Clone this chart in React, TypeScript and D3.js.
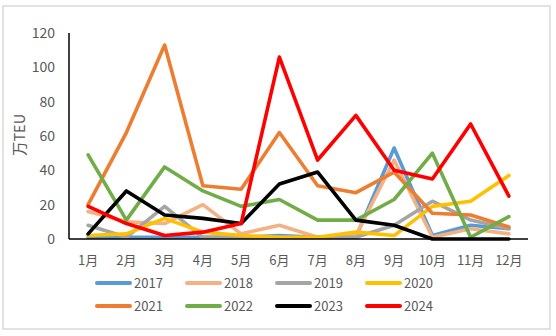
import React from "react";
import * as d3 from "d3";

const months = ["1月", "2月", "3月", "4月", "5月", "6月", "7月", "8月", "9月", "10月", "11月", "12月"];
const yTicks = [0, 20, 40, 60, 80, 100, 120];

const s2017 = [1, 1, 1, 1, 1, 2, 1, 1, 53, 2, 8, 6];
const s2018 = [16, 10, 9, 20, 3, 8, 1, 2, 46, 1, 6, 3];
const s2019 = [8, 1, 19, 1, 1, 1, 1, 1, 8, 22, 11, 6];
const s2020 = [2, 3, 12, 4, 2, 1, 1, 4, 2, 19, 22, 37];
const s2021 = [20, 62, 113, 31, 29, 62, 31, 27, 39, 15, 14, 7];
const s2022 = [49, 11, 42, 28, 19, 23, 11, 11, 23, 50, 1, 13];
const s2023 = [3, 28, 14, 12, 9, 32, 39, 11, 8, 0, 0, 0];
const s2024 = [19, 9, 2, 4, 9, 106, 46, 72, 40, 35, 67, 25];

const seriesNames = ["2017", "2018", "2019", "2020", "2021", "2022", "2023", "2024"];
const seriesValues = [s2017, s2018, s2019, s2020, s2021, s2022, s2023, s2024];
const colors = ["#5B9BD5", "#F4B183", "#A5A5A5", "#FFC000", "#ED7D31", "#70AD47", "#000000", "#FF0000"];

const FONT = "'Noto Sans CJK SC', 'Noto Sans', sans-serif";
const TXT = "#595959";

export default function App() {
  const W = 556, H = 336;
  const x = d3.scaleBand<string>().domain(months).range([69, 528]).padding(0);
  const y = d3.scaleLinear().domain([0, 120]).range([239, 33]);
  const cx = (m: string) => (x(m) as number) + x.bandwidth() / 2;
  const line = d3
    .line<number>()
    .x((_, i) => cx(months[i]))
    .y((v) => y(v));

  const legendX0 = 97;
  const legendDX = 90;
  const legendY = [283, 306];

  return (
    <svg
      width={W}
      height={H}
      style={{ position: "absolute", left: 0, top: 0, background: "#fff" }}
      fontFamily={FONT}
    >
      <rect x={3} y={6} width={547} height={323} fill="#fff" stroke="#d9d9d9" strokeWidth={1.5} />
      {yTicks.map((t) => (
        <text key={t} x={55} y={y(t)} dy="0.36em" textAnchor="end" fontSize={14} fill={TXT}>
          {t}
        </text>
      ))}
      <text
        transform={`translate(20,135) rotate(-90)`}
        textAnchor="middle"
        dy="0.36em"
        fontSize={14.5}
        fill={TXT}
      >
        万TEU
      </text>
      {months.map((m) => (
        <text key={m} x={cx(m)} y={260} dy="0.36em" textAnchor="middle" fontSize={13} fill={TXT}>
          {m}
        </text>
      ))}
      {seriesValues.map((vals, i) => (
        <path
          key={seriesNames[i]}
          d={line(vals) as string}
          fill="none"
          stroke={colors[i]}
          strokeWidth={3.6}
          strokeLinejoin="round"
          strokeLinecap="round"
        />
      ))}
      <line x1={69} x2={69} y1={y(120)} y2={y(0)} stroke="#000" strokeWidth={1.5} />
      <line x1={69} x2={528} y1={y(0)} y2={y(0)} stroke="#000" strokeWidth={1.5} />
      {seriesNames.map((n, i) => {
        const col = i % 4;
        const row = Math.floor(i / 4);
        const lx = legendX0 + col * legendDX;
        const ly = legendY[row];
        return (
          <g key={n}>
            <line x1={lx} x2={lx + 33} y1={ly} y2={ly} stroke={colors[i]} strokeWidth={4} strokeLinecap="round" />
            <text x={lx + 37} y={ly} dy="0.36em" fontSize={13} fill={TXT}>
              {n}
            </text>
          </g>
        );
      })}
    </svg>
  );
}
